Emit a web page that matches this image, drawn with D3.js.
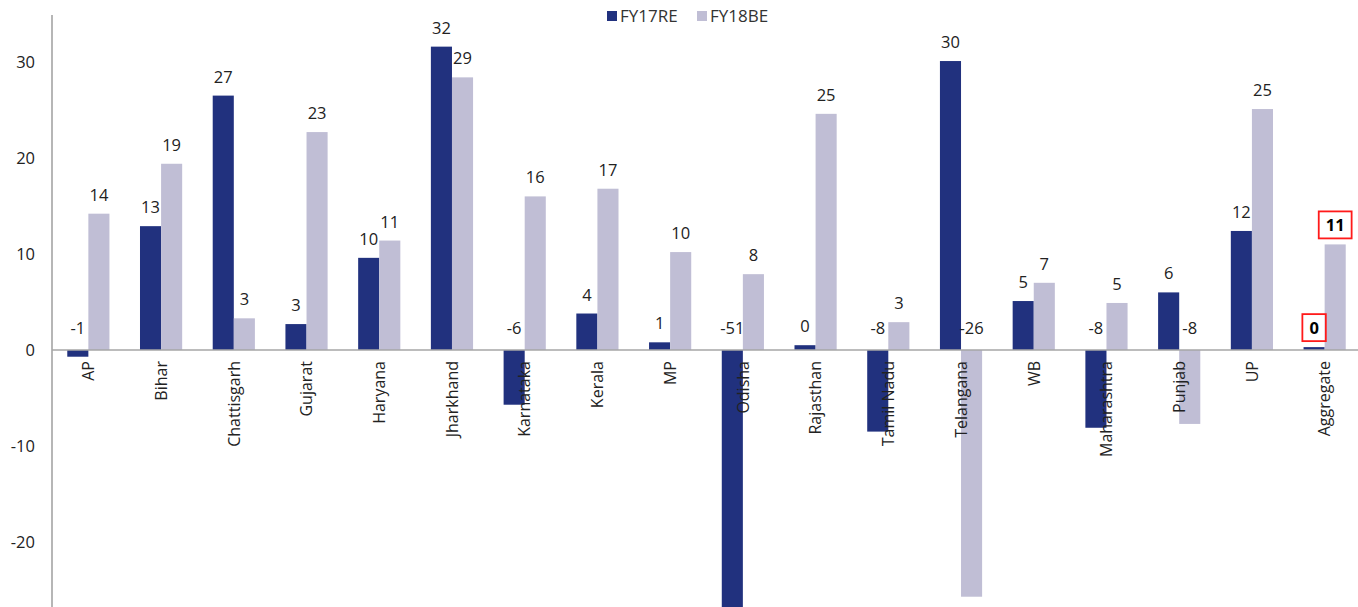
<!DOCTYPE html>
<html>
<head>
<meta charset="utf-8">
<script src="https://cdn.jsdelivr.net/npm/d3@7"></script>
<style>
  html, body { margin: 0; padding: 0; background: #fff; }
  svg { display: block; font-family: "Open Sans", "Noto Sans", sans-serif; }
</style>
</head>
<body>
<svg id="chart" width="1358" height="607"></svg>
<script>
const categories = ["AP", "Bihar", "Chattisgarh", "Gujarat", "Haryana", "Jharkhand", "Karnataka", "Kerala", "MP", "Odisha", "Rajasthan", "Tamil Nadu", "Telangana", "WB", "Maharashtra", "Punjab", "UP", "Aggregate"];
const seriesNames = ["FY17RE", "FY18BE"];
const fy17re = [-0.7, 12.9, 26.5, 2.7, 9.6, 31.6, -5.7, 3.8, 0.8, -51, 0.5, -8.5, 30.1, 5.1, -8.1, 6.0, 12.4, 0.3];
const fy18be = [14.2, 19.4, 3.3, 22.7, 11.4, 28.4, 16.0, 16.8, 10.2, 7.9, 24.6, 2.9, -25.7, 7.0, 4.9, -7.7, 25.1, 11.0];
const fy17reLabels = ["-1", "13", "27", "3", "10", "32", "-6", "4", "1", "-51", "0", "-8", "30", "5", "-8", "6", "12", "0"];
const fy18beLabels = ["14", "19", "3", "23", "11", "29", "16", "17", "10", "8", "25", "3", "-26", "7", "5", "-8", "25", "11"];
const yTicks = [-20, -10, 0, 10, 20, 30];
const highlightCategory = "Aggregate";

const colors = ["#21317E", "#C0BED5"];
const svg = d3.select("#chart");

const x0 = d3.scaleBand().domain(categories).range([52, 1361]).paddingInner(0.42).paddingOuter(0.21);
const x1 = d3.scaleBand().domain(seriesNames).range([0, x0.bandwidth()]);
const y = d3.scaleLinear().domain([-30, 35]).range([638, 14]);

const series = [
  { name: seriesNames[0], values: fy17re, labels: fy17reLabels, color: colors[0] },
  { name: seriesNames[1], values: fy18be, labels: fy18beLabels, color: colors[1] }
];

// bars
series.forEach(s => {
  svg.append("g").selectAll("rect")
    .data(categories.map((c, i) => ({ c, v: s.values[i] })))
    .join("rect")
    .attr("x", d => x0(d.c) + x1(s.name))
    .attr("width", x1.bandwidth())
    .attr("y", d => y(Math.max(0, d.v)))
    .attr("height", d => Math.abs(y(d.v) - y(0)))
    .attr("fill", s.color);
});

// y axis
const yAxis = d3.axisLeft(y).tickValues(yTicks).tickSize(0).tickPadding(17).tickFormat(d => String(d));
const gy = svg.append("g").attr("transform", "translate(52,0)").call(yAxis);
gy.select(".domain").remove();
gy.selectAll("text").attr("font-size", 16.5).attr("fill", "#222").attr("font-family", "'Open Sans', sans-serif");
svg.append("line").attr("x1", 52).attr("x2", 52).attr("y1", 15).attr("y2", 607)
  .attr("stroke", "#9E9E9E").attr("stroke-width", 1.5);

// zero line
svg.append("line").attr("x1", 52).attr("x2", 1358).attr("y1", y(0)).attr("y2", y(0))
  .attr("stroke", "#A6A6A6").attr("stroke-width", 1.5);

// category labels (rotated)
svg.append("g").selectAll("text")
  .data(categories)
  .join("text")
  .attr("transform", d => `translate(${x0(d) + x0.bandwidth() / 2},${y(0) + 11}) rotate(-90)`)
  .attr("text-anchor", "end")
  .attr("dy", "0.36em")
  .attr("font-size", 16)
  .attr("fill", "#222")
  .text(d => d);

// value labels
series.forEach(s => {
  categories.forEach((c, i) => {
    const v = s.values[i];
    const cx = x0(c) + x1(s.name) + x1.bandwidth() / 2;
    const by = v >= 0 ? y(v) - 13 : y(0) - 16;
    const isHi = c === highlightCategory;
    const t = svg.append("text")
      .attr("x", cx).attr("y", by)
      .attr("text-anchor", "middle")
      .attr("font-size", 16.5)
      .attr("font-weight", isHi ? "bold" : "normal")
      .attr("fill", isHi ? "#000" : "#222")
      .text(s.labels[i]);
    if (isHi) {
      const bb = t.node().getBBox();
      svg.append("rect")
        .attr("x", bb.x - 7).attr("y", bb.y - 2)
        .attr("width", bb.width + 14).attr("height", bb.height + 4)
        .attr("fill", "none").attr("stroke", "#FF1A1A").attr("stroke-width", 1.8);
    }
  });
});

// legend
const legend = svg.append("g");
const legendItems = [{ name: seriesNames[0], color: colors[0], x: 607 }, { name: seriesNames[1], color: colors[1], x: 697 }];
legendItems.forEach(li => {
  legend.append("rect").attr("x", li.x).attr("y", 11).attr("width", 10).attr("height", 10).attr("fill", li.color);
  legend.append("text").attr("x", li.x + 13).attr("y", 21.5).attr("font-size", 17).attr("fill", "#333").text(li.name);
});
</script>
</body>
</html>
